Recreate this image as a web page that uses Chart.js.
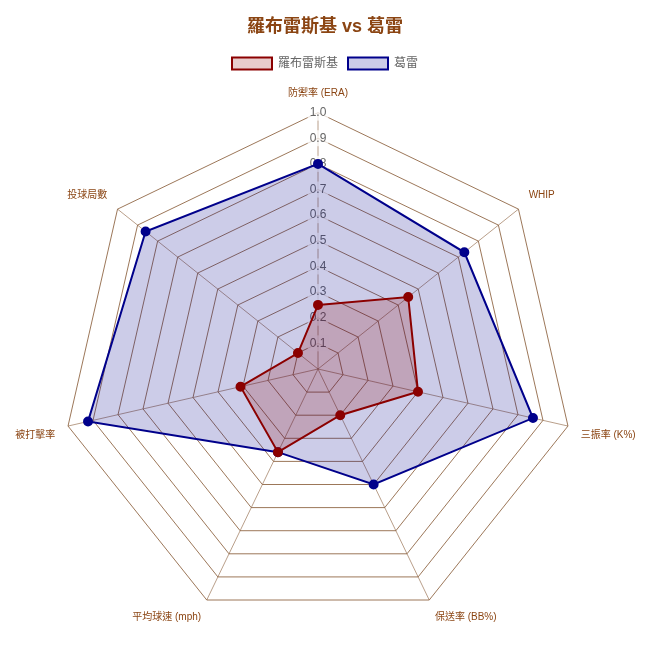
<!DOCTYPE html>
<html>
<head>
<meta charset="utf-8">
<script src="https://cdn.jsdelivr.net/npm/chart.js@4"></script>
<style>
  html, body { margin: 0; padding: 0; background: #fff; }
  #wrap { width: 644px; height: 650px; margin-left: 3px; }
</style>
</head>
<body>
<div id="wrap"><canvas id="radarChart"></canvas></div>
<script>
// axis labels
const categories = ['防禦率 (ERA)', 'WHIP', '三振率 (K%)', '保送率 (BB%)', '平均球速 (mph)', '被打擊率', '投球局數']
// normalised values (0-1)
const robleskiValues = [0.25, 0.45, 0.4, 0.2, 0.36, 0.31, 0.1]
const grayValues = [0.8, 0.73, 0.86, 0.5, 0.36, 0.92, 0.86]
const seriesNames = ['羅布雷斯基', '葛雷']
const titleText = '羅布雷斯基 vs 葛雷'

const brown = '#8B4513'
const font = "'Helvetica Neue', Helvetica, Arial, 'Noto Sans CJK TC', sans-serif"

const ctx = document.getElementById('radarChart').getContext('2d')
new Chart(ctx, {
  type: 'radar',
  data: {
    labels: categories,
    datasets: [
      {
        label: seriesNames[0],
        data: robleskiValues,
        borderColor: '#8B0000',
        backgroundColor: 'rgba(139, 0, 0, 0.2)',
        pointBackgroundColor: '#8B0000',
        pointBorderColor: '#8B0000',
        borderWidth: 2,
        pointRadius: 4,
      },
      {
        label: seriesNames[1],
        data: grayValues,
        borderColor: '#00008B',
        backgroundColor: 'rgba(0, 0, 139, 0.2)',
        pointBackgroundColor: '#00008B',
        pointBorderColor: '#00008B',
        borderWidth: 2,
        pointRadius: 4,
      },
    ],
  },
  options: {
    responsive: true,
    maintainAspectRatio: false,
    animation: false,
    layout: { padding: { top: 6, bottom: 6 } },
    plugins: {
      title: {
        display: true,
        text: titleText,
        color: brown,
        font: { family: font, size: 18, weight: 'bold' },
        padding: { top: 10, bottom: 10 },
      },
      legend: {
        labels: {
          color: '#666',
          font: { family: font, size: 12 },
        },
      },
    },
    scales: {
      r: {
        min: 0,
        max: 1,
        ticks: {
          stepSize: 0.1,
          color: '#666',
          font: { family: font, size: 12 },
        },
        grid: { color: 'rgba(139, 95, 60, 0.85)' },
        angleLines: { color: 'rgba(139, 95, 60, 0.6)' },
        pointLabels: {
          color: brown,
          font: { family: font, size: 10 },
        },
      },
    },
  },
})
</script>
</body>
</html>
